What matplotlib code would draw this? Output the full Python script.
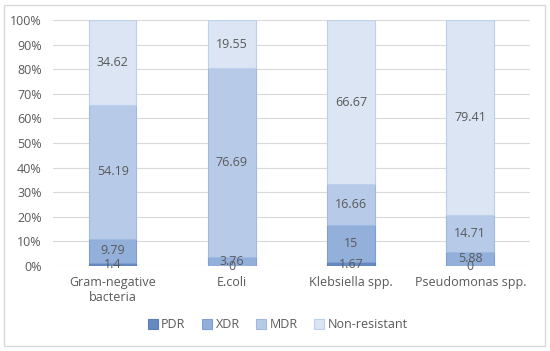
import matplotlib.pyplot as plt
import numpy as np
from matplotlib.patches import Rectangle

categories = ['Gram-negative\nbacteria', 'E.coli', 'Klebsiella spp.', 'Pseudomonas spp.']
series = ['PDR', 'XDR', 'MDR', 'Non-resistant']
pdr = [1.4, 0, 1.67, 0]
xdr = [9.79, 3.76, 15, 5.88]
mdr = [54.19, 76.69, 16.66, 14.71]
nonres = [34.62, 19.55, 66.67, 79.41]
labels = {
    'PDR': ['1.4', '0', '1.67', '0'],
    'XDR': ['9.79', '3.76', '15', '5.88'],
    'MDR': ['54.19', '76.69', '16.66', '14.71'],
    'Non-resistant': ['34.62', '19.55', '66.67', '79.41'],
}

colors = ['#6589c1', '#93b0db', '#b7cbe9', '#dbe5f4']
edges = ['#5a7fb9', '#7f9fd1', '#9fb9e0', '#bccfeb']
text_col = '#595959'

plt.rcParams['font.family'] = ['Open Sans', 'DejaVu Sans']

fig = plt.figure(figsize=(5.5, 3.51), dpi=100)
ax = fig.add_axes([0.0964, 0.242, 0.867, 0.701])

x = np.arange(len(categories))
bottom = np.zeros(len(categories))
data = [pdr, xdr, mdr, nonres]
for name, vals, c, ec in zip(series, data, colors, edges):
    vals = np.array(vals, dtype=float)
    ax.bar(x, vals, 0.4, bottom=bottom, color=c, edgecolor=ec, linewidth=0.8,
           label=name, zorder=3)
    for xi, b, v, t in zip(x, bottom, vals, labels[name]):
        ax.text(xi, b + v / 2, t, ha='center', va='center', fontsize=9,
                color=text_col, zorder=4)
    bottom += vals

ax.set_xlim(-0.5, 3.5)
ax.set_ylim(0, 100)
ax.set_yticks(np.arange(0, 101, 10))
ax.set_yticklabels([f'{v}%' for v in range(0, 101, 10)])
ax.set_xticks(x)
ax.set_xticklabels(categories)
ax.yaxis.grid(True, color='#d9d9d9', linewidth=0.8, zorder=0)
for s in ax.spines.values():
    s.set_visible(False)
ax.tick_params(axis='both', length=0, colors=text_col, labelsize=9)
ax.tick_params(axis='x', pad=7)
ax.tick_params(axis='y', pad=8)

fig.legend(loc='center', bbox_to_anchor=(0.505, 0.075), ncol=4, frameon=False,
           fontsize=9, handlelength=0.8, handleheight=0.8, handletextpad=0.3,
           columnspacing=1.3, labelcolor=text_col)

fig.patches.append(Rectangle((0.008, 0.014), 0.983, 0.972, transform=fig.transFigure,
                             fill=False, edgecolor='#d9d9d9', linewidth=1))

fig.savefig('out.png', dpi=100)
